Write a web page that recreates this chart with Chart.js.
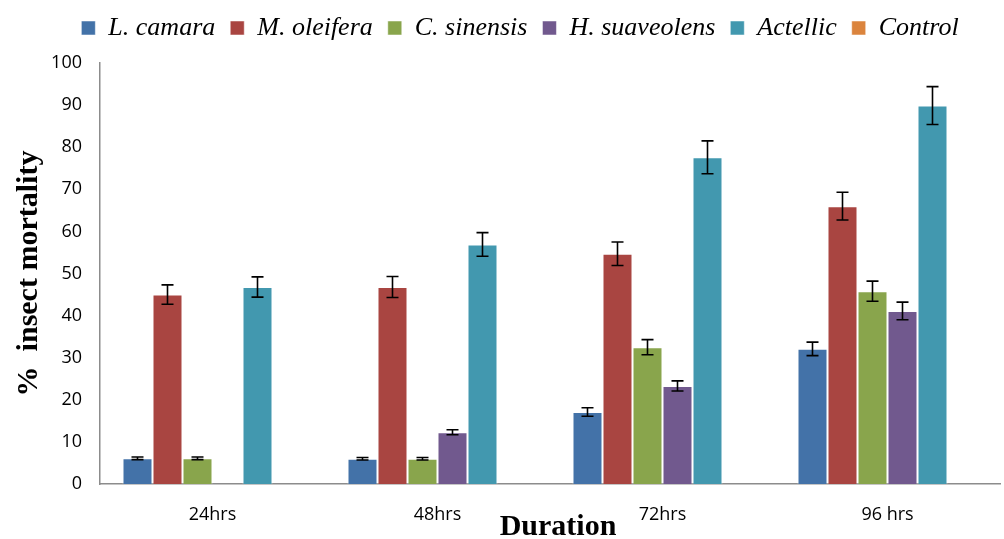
<!DOCTYPE html>
<html>
<head>
<meta charset="utf-8">
<script src="https://cdn.jsdelivr.net/npm/chart.js@4.4.1/dist/chart.umd.min.js"></script>
<style>
  html, body { margin: 0; padding: 0; background: #fff; }
  #wrap { width: 1004px; height: 539px; }
</style>
</head>
<body>
<div id="wrap"><canvas id="mortality"></canvas></div>
<script>
const durations = ['24hrs', '48hrs', '72hrs', '96 hrs'];

const lCamara = [6.1, 6.0, 17.1, 32.1];
const mOleifera = [45.0, 46.8, 54.7, 66.0];
const cSinensis = [6.1, 6.0, 32.5, 45.8];
const hSuaveolens = [0, 12.3, 23.3, 41.1];
const actellic = [46.8, 56.9, 77.6, 89.9];
const control = [0, 0, 0, 0];

const lCamaraErr = [0.3, 0.3, 1.0, 1.6];
const mOleiferaErr = [2.3, 2.5, 2.8, 3.3];
const cSinensisErr = [0.3, 0.3, 1.8, 2.4];
const hSuaveolensErr = [0, 0.6, 1.2, 2.1];
const actellicErr = [2.4, 2.8, 3.9, 4.5];
const controlErr = [0, 0, 0, 0];

const yTicks = [0, 10, 20, 30, 40, 50, 60, 70, 80, 90, 100];

const serif = "'Liberation Serif', 'Times New Roman', serif";
const sans = "'Open Sans', 'Noto Sans', sans-serif";

// error bars drawn on top of the bars, through the chart's own scales
const errorBars = {
    id: 'errorBars',
    afterDatasetsDraw(chart) {
        const ctx = chart.ctx;
        const yScale = chart.scales.y;
        ctx.save();
        ctx.strokeStyle = '#000';
        ctx.lineWidth = 1.6;
        chart.data.datasets.forEach((ds, i) => {
            if (!ds.errors) return;
            const meta = chart.getDatasetMeta(i);
            meta.data.forEach((bar, j) => {
                const err = ds.errors[j];
                if (!err) return;
                const v = ds.data[j];
                const top = yScale.getPixelForValue(v + err);
                const bottom = yScale.getPixelForValue(v - err);
                const x = bar.x;
                const cap = 6;
                ctx.beginPath();
                ctx.moveTo(x, top);
                ctx.lineTo(x, bottom);
                ctx.moveTo(x - cap, top);
                ctx.lineTo(x + cap, top);
                ctx.moveTo(x - cap, bottom);
                ctx.lineTo(x + cap, bottom);
                ctx.stroke();
            });
        });
        ctx.restore();
    }
};

// both axis titles drawn by hand (Excel places them tighter than Chart.js does)
const axisTitles = {
    id: 'axisTitles',
    afterDraw(chart) {
        const ctx = chart.ctx;
        const area = chart.chartArea;
        ctx.save();
        ctx.fillStyle = '#000';
        ctx.font = "bold 30px " + serif;
        ctx.textAlign = 'center';
        ctx.textBaseline = 'middle';
        ctx.fillText('Duration', (area.left + area.right) / 2 + 8, area.bottom + 43);
        ctx.translate(29, (area.top + area.bottom) / 2);
        ctx.rotate(-Math.PI / 2);
        ctx.fillText('%  insect mortality', 0, 0);
        ctx.restore();
    }
};

// leave room under the legend
const legendGap = {
    id: 'legendGap',
    beforeInit(chart) {
        const fit = chart.legend.fit;
        chart.legend.fit = function () {
            fit.bind(chart.legend)();
            this.height = 63;
        };
    }
};

function series(label, data, errors, color) {
    return {
        label: label,
        data: data,
        errors: errors,
        backgroundColor: color,
        borderColor: 'rgba(255,255,255,0.5)',
        borderWidth: 1,
        borderSkipped: 'bottom'
    };
}

const ctx = document.getElementById('mortality').getContext('2d');
new Chart(ctx, {
    type: 'bar',
    data: {
        labels: durations,
        datasets: [
            series('L. camara', lCamara, lCamaraErr, '#4372A8'),
            series('M. oleifera', mOleifera, mOleiferaErr, '#A94541'),
            series('C. sinensis', cSinensis, cSinensisErr, '#89A54C'),
            series('H. suaveolens', hSuaveolens, hSuaveolensErr, '#71598E'),
            series('Actellic', actellic, actellicErr, '#4298AF'),
            series('Control', control, controlErr, '#DB843D')
        ]
    },
    options: {
        responsive: true,
        maintainAspectRatio: false,
        animation: false,
        layout: { padding: { left: 40, right: 4, top: 0, bottom: 0 } },
        datasets: {
            bar: { categoryPercentage: 0.8, barPercentage: 1.0 }
        },
        plugins: {
            legend: {
                position: 'top',
                labels: {
                    boxWidth: 14,
                    boxHeight: 14,
                    padding: 15,
                    color: '#000',
                    font: { family: serif, size: 26, style: 'italic' }
                }
            },
            tooltip: { enabled: false }
        },
        scales: {
            x: {
                grid: { display: false, drawTicks: false },
                border: { display: true, color: '#8c8c8c', width: 1.5 },
                ticks: { color: '#000', padding: 22, font: { family: sans, size: 18, lineHeight: 1 } },
                afterFit: (axis) => { axis.height = 55; }
            },
            y: {
                min: 0,
                max: 100,
                afterBuildTicks: (axis) => { axis.ticks = yTicks.map(v => ({ value: v })); },
                grid: { display: false, drawTicks: false },
                border: { display: true, color: '#8c8c8c', width: 1.5 },
                ticks: { color: '#000', padding: 18, font: { family: sans, size: 18 } },
                afterFit: (axis) => { axis.width = 60; }
            }
        }
    },
    plugins: [errorBars, axisTitles, legendGap]
});
</script>
</body>
</html>
